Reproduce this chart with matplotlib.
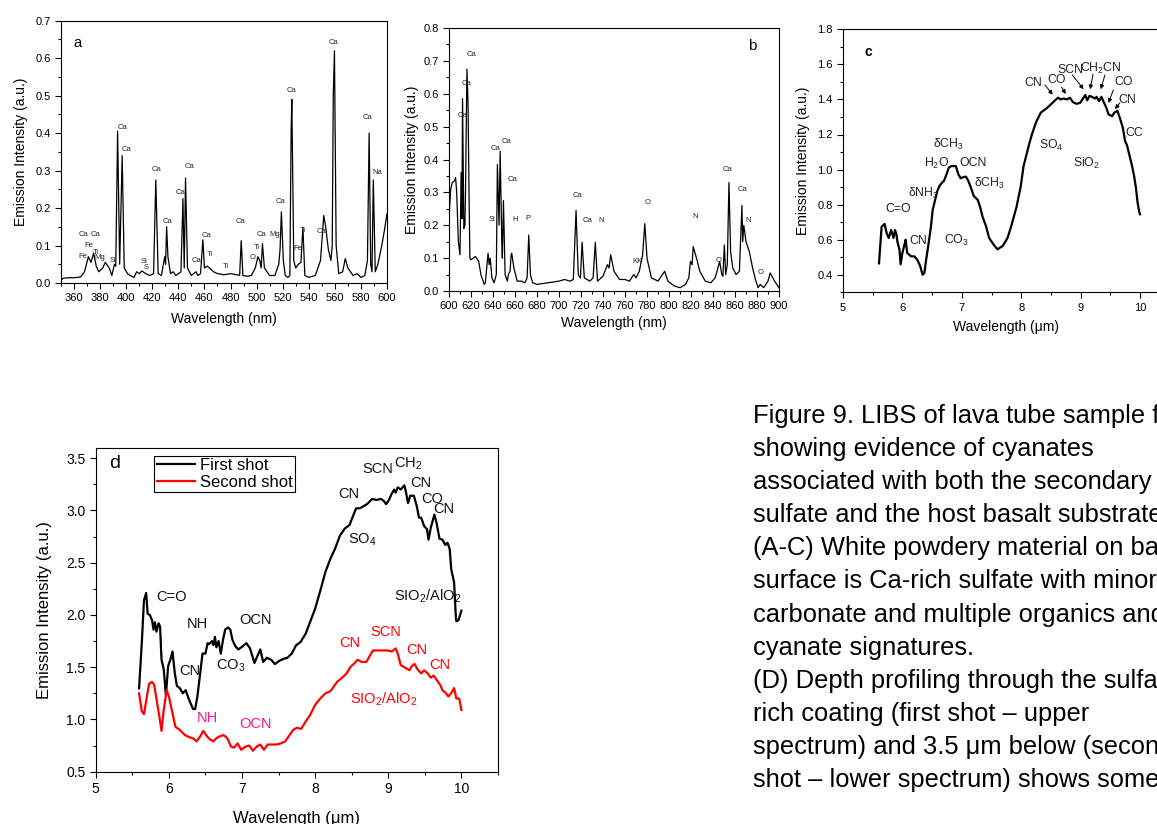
import numpy as np
import matplotlib
matplotlib.use('Agg')
import matplotlib.pyplot as plt
from matplotlib.ticker import MultipleLocator, FormatStrFormatter

plt.rcParams['font.family'] = ['Liberation Sans', 'DejaVu Sans']
plt.rcParams['mathtext.fontset'] = 'custom'
plt.rcParams['mathtext.rm'] = 'Liberation Sans'
plt.rcParams['mathtext.default'] = 'regular'

# ---- panel a : LIBS 350-600 nm
a_wl = [350, 352, 356, 360, 365, 368, 371, 373, 375, 377,
        379, 382, 384, 386, 387, 389, 391, 392, 393.4, 395,
        396.9, 398.5, 401, 403, 406, 408, 410, 412, 415, 418,
        421, 422.7, 424.5, 427, 429.5, 430.2, 431, 432, 434, 436,
        438, 440, 442, 443.5, 444.5, 445.5, 447, 450, 453.5, 455,
        457, 458.8, 460, 462, 464, 467, 470, 475, 480, 485,
        487, 488.2, 489.5, 493, 496, 499, 501, 502.5, 503.5, 504.5,
        506, 510, 514, 517, 518, 519, 520.5, 522, 524, 525.5,
        526.5, 527, 528.5, 530, 532, 534, 535.5, 537, 540, 545,
        549, 551.5, 553, 555, 557, 558, 558.8, 559.7, 561, 563,
        566, 568, 570, 574, 577, 580, 583, 585, 586.3, 587.5,
        588.5, 589.5, 591, 593, 596, 598, 600]
a_int = [0.008, 0.013, 0.014, 0.014, 0.016, 0.03, 0.07, 0.055, 0.08, 0.045,
         0.03, 0.04, 0.055, 0.045, 0.04, 0.02, 0.05, 0.045, 0.405, 0.05,
         0.34, 0.04, 0.025, 0.02, 0.015, 0.03, 0.025, 0.032, 0.025, 0.02,
         0.025, 0.275, 0.025, 0.02, 0.07, 0.05, 0.15, 0.07, 0.025, 0.03,
         0.02, 0.025, 0.03, 0.225, 0.04, 0.28, 0.04, 0.02, 0.03, 0.02,
         0.025, 0.115, 0.04, 0.045, 0.04, 0.03, 0.025, 0.022, 0.025, 0.022,
         0.02, 0.113, 0.02, 0.018, 0.02, 0.04, 0.07, 0.06, 0.04, 0.105,
         0.04, 0.02, 0.02, 0.05, 0.09, 0.19, 0.06, 0.02, 0.015, 0.02,
         0.41, 0.49, 0.06, 0.04, 0.05, 0.055, 0.148, 0.02, 0.015, 0.02,
         0.06, 0.18, 0.15, 0.09, 0.06, 0.1, 0.5, 0.62, 0.1, 0.025,
         0.03, 0.065, 0.04, 0.02, 0.025, 0.015, 0.02, 0.06, 0.40, 0.05,
         0.03, 0.275, 0.03, 0.05, 0.1, 0.14, 0.185]
a_labels = [('Ca', 367.6, 0.129), ('Ca', 376.8, 0.129), ('Fe', 371.7, 0.099), ('Ti', 377, 0.082),
            ('Fe', 366.4, 0.072), ('Mg', 379.4, 0.068), ('Si', 390, 0.059), ('Ca', 397, 0.416),
            ('Ca', 400.4, 0.355), ('Si', 413.7, 0.057), ('S', 415.7, 0.042), ('Ca', 423.4, 0.303),
            ('Ca', 431.3, 0.164), ('Ca', 441.3, 0.242), ('Ca', 448.4, 0.31), ('Ca', 453.8, 0.059),
            ('Ca', 461.2, 0.128), ('Ti', 464.5, 0.077), ('Ti', 476.6, 0.044), ('Ca', 487.8, 0.164),
            ('Ti', 500.1, 0.094), ('O', 497, 0.0675), ('Ca', 503.4, 0.13), ('Mg', 514.1, 0.13),
            ('Ca', 518.5, 0.217), ('Ca', 526.4, 0.513), ('Fe', 531.5, 0.093), ('Ti', 535.8, 0.141),
            ('Ca', 550, 0.137), ('Ca', 558.9, 0.641), ('Ca', 585.2, 0.442), ('Na', 592.6, 0.294)]

# ---- panel b : LIBS 600-900 nm
b_wl = [600, 601.5, 603, 605, 606, 607, 608.5, 610, 611, 611.8,
        612.3, 613.5, 614.5, 615, 616.3, 617.3, 618.2, 619, 620, 622,
        624, 627, 629, 632, 633, 634, 635.5, 636.5, 637.5, 639,
        641, 643, 644, 645.5, 646.5, 648, 648.5, 649.5, 651, 653,
        654, 655.5, 656.5, 657, 659, 662, 666, 669, 671, 672.5,
        674, 676, 680, 690, 700, 705, 710, 713, 715.5, 717.5,
        719.5, 721, 723, 728, 731, 733, 735, 740, 744, 745.5,
        747, 750, 755, 760, 764, 768, 770, 773, 776, 778,
        780, 784, 790, 796, 799, 805, 810, 815, 818, 819.5,
        821, 822, 825, 828, 833, 838, 842, 844, 846, 848,
        849, 850.3, 851.5, 853, 854.5, 856, 858, 861, 864, 866.3,
        867, 868, 870, 873, 876, 879, 881, 883, 886, 890,
        892, 896, 900]
b_int = [0.22, 0.31, 0.33, 0.335, 0.345, 0.3, 0.15, 0.11, 0.36, 0.22,
         0.585, 0.19, 0.2, 0.3, 0.675, 0.57, 0.3, 0.1, 0.095, 0.1,
         0.105, 0.09, 0.05, 0.02, 0.025, 0.06, 0.115, 0.08, 0.1, 0.04,
         0.025, 0.05, 0.385, 0.2, 0.425, 0.15, 0.1, 0.275, 0.05, 0.03,
         0.05, 0.06, 0.11, 0.115, 0.07, 0.03, 0.03, 0.025, 0.04, 0.17,
         0.05, 0.025, 0.02, 0.025, 0.03, 0.035, 0.03, 0.035, 0.245, 0.05,
         0.04, 0.148, 0.04, 0.03, 0.04, 0.148, 0.03, 0.045, 0.08, 0.07,
         0.11, 0.06, 0.035, 0.035, 0.03, 0.05, 0.04, 0.06, 0.11, 0.205,
         0.1, 0.04, 0.03, 0.06, 0.03, 0.015, 0.01, 0.02, 0.04, 0.09,
         0.08, 0.135, 0.1, 0.06, 0.03, 0.025, 0.04, 0.065, 0.09, 0.05,
         0.045, 0.14, 0.05, 0.08, 0.33, 0.12, 0.07, 0.05, 0.06, 0.26,
         0.15, 0.2, 0.15, 0.12, 0.07, 0.03, 0.01, 0.02, 0.01, 0.03,
         0.055, 0.03, 0.01]
b_labels = [('Ca', 620.6, 0.72), ('Ca', 616.1, 0.63), ('Ca', 612.7, 0.535), ('Ca', 642.7, 0.434),
            ('Ca', 652.4, 0.456), ('Ca', 657.6, 0.338), ('Si', 638.8, 0.219), ('H', 660.3, 0.219),
            ('P', 671.8, 0.221), ('Ca', 717, 0.29), ('Ca', 726.1, 0.213), ('N', 738.2, 0.213),
            ('KK', 771.8, 0.089), ('O', 780.6, 0.269), ('N', 823.6, 0.226), ('O', 844.8, 0.094),
            ('Ca', 853, 0.37), ('Ca', 866.6, 0.31), ('N', 872, 0.213), ('O', 883.4, 0.056)]

# ---- panel c : IR-like spectrum 5-10 um
c_wl = [5.606, 5.65, 5.70, 5.735, 5.77, 5.81, 5.85, 5.875, 5.90, 5.915,
        5.95, 5.97, 6.00, 6.03, 6.055, 6.08, 6.145, 6.20, 6.25, 6.30,
        6.34, 6.37, 6.40, 6.45, 6.48, 6.51, 6.55, 6.59, 6.63, 6.68,
        6.70, 6.745, 6.78, 6.82, 6.857, 6.90, 6.94, 6.98, 7.01, 7.07,
        7.11, 7.15, 7.20, 7.27, 7.31, 7.35, 7.41, 7.46, 7.54, 7.60,
        7.69, 7.77, 7.83, 7.92, 7.99, 8.04, 8.13, 8.18, 8.25, 8.33,
        8.43, 8.51, 8.57, 8.62, 8.66, 8.71, 8.77, 8.82, 8.87, 8.93,
        8.99, 9.04, 9.08, 9.11, 9.15, 9.19, 9.24, 9.27, 9.31, 9.35,
        9.39, 9.43, 9.47, 9.53, 9.57, 9.62, 9.66, 9.71, 9.75, 9.78,
        9.82, 9.86, 9.90, 9.93, 9.96, 9.99, 10.0]
c_int = [0.465, 0.674, 0.69, 0.637, 0.61, 0.655, 0.61, 0.655, 0.63, 0.59,
         0.545, 0.46, 0.525, 0.565, 0.6, 0.525, 0.505, 0.505, 0.486, 0.45,
         0.40, 0.41, 0.486, 0.6, 0.674, 0.77, 0.826, 0.88, 0.91, 0.93,
         0.935, 0.975, 1.01, 1.02, 1.02, 1.02, 0.975, 0.95, 0.955, 0.96,
         0.935, 0.9, 0.85, 0.826, 0.785, 0.73, 0.675, 0.61, 0.57, 0.545,
         0.565, 0.61, 0.675, 0.785, 0.9, 1.02, 1.14, 1.2, 1.27, 1.325,
         1.35, 1.375, 1.395, 1.41, 1.40, 1.405, 1.40, 1.41, 1.385, 1.375,
         1.38, 1.405, 1.425, 1.395, 1.42, 1.415, 1.405, 1.415, 1.39, 1.415,
         1.385, 1.355, 1.315, 1.305, 1.325, 1.335, 1.295, 1.24, 1.16, 1.14,
         1.085, 1.03, 0.965, 0.9, 0.81, 0.755, 0.745]
c_labels = [('C=O', 5.93, 0.773), ('CN', 6.27, 0.594), ('δNH$_3$', 6.35, 0.865), ('δCH$_3$', 6.77, 1.146),
            ('H$_2$O', 6.58, 1.036), ('OCN', 7.19, 1.036), ('δCH$_3$', 7.46, 0.918), ('CO$_3$', 6.91, 0.594),
            ('SO$_4$', 8.51, 1.135), ('SiO$_2$', 9.10, 1.036), ('CC', 9.90, 1.21), ('CN', 8.20, 1.496),
            ('CO', 8.59, 1.511), ('SCN', 8.82, 1.568), ('CH$_2$CN', 9.34, 1.578), ('CO', 9.72, 1.501),
            ('CN', 9.78, 1.397)]
c_arrows = [((8.40, 1.483), (8.53, 1.427)), ((8.68, 1.47), (8.75, 1.431)), ((8.86, 1.54), (9.05, 1.458)),
            ((9.21, 1.545), (9.16, 1.458)), ((9.41, 1.54), (9.34, 1.458)), ((9.55, 1.454), (9.47, 1.38)),
            ((9.66, 1.38), (9.58, 1.345))]

# ---- panel d : depth profile, two shots
d_wl1 = [5.593, 5.63, 5.66, 5.69, 5.71, 5.74, 5.77, 5.79, 5.81, 5.83,
         5.86, 5.88, 5.90, 5.93, 5.96, 5.99, 6.02, 6.05, 6.08, 6.11,
         6.15, 6.19, 6.23, 6.27, 6.30, 6.33, 6.36, 6.39, 6.43, 6.46,
         6.50, 6.53, 6.55, 6.59, 6.61, 6.63, 6.65, 6.68, 6.71, 6.74,
         6.77, 6.81, 6.84, 6.87, 6.91, 6.95, 7.01, 7.06, 7.11, 7.17,
         7.20, 7.25, 7.29, 7.34, 7.40, 7.45, 7.51, 7.57, 7.62, 7.68,
         7.74, 7.80, 7.87, 7.93, 8.00, 8.07, 8.14, 8.21, 8.27, 8.34,
         8.41, 8.47, 8.52, 8.56, 8.61, 8.66, 8.71, 8.78, 8.84, 8.90,
         8.94, 8.97, 9.01, 9.04, 9.08, 9.10, 9.13, 9.17, 9.22, 9.24,
         9.27, 9.30, 9.35, 9.39, 9.42, 9.45, 9.49, 9.53, 9.55, 9.58,
         9.63, 9.66, 9.70, 9.74, 9.78, 9.81, 9.84, 9.86, 9.90, 9.92,
         9.93, 9.96, 10.0]
d_first = [1.298, 1.73, 2.14, 2.21, 2.01, 2.0, 1.95, 1.86, 1.93, 1.84,
           1.92, 1.89, 1.57, 1.48, 1.23, 1.51, 1.57, 1.65, 1.45, 1.32,
           1.30, 1.25, 1.28, 1.2, 1.15, 1.10, 1.10, 1.22, 1.45, 1.63,
           1.63, 1.73, 1.72, 1.75, 1.71, 1.79, 1.69, 1.75, 1.63, 1.76,
           1.86, 1.88, 1.86, 1.76, 1.70, 1.67, 1.70, 1.73, 1.68, 1.54,
           1.59, 1.67, 1.55, 1.59, 1.57, 1.53, 1.56, 1.58, 1.59, 1.63,
           1.71, 1.74, 1.82, 1.93, 2.06, 2.23, 2.41, 2.54, 2.63, 2.76,
           2.83, 2.86, 2.95, 3.02, 3.02, 3.04, 3.06, 3.11, 3.10, 3.11,
           3.09, 3.06, 3.10, 3.15, 3.20, 3.17, 3.22, 3.20, 3.24, 3.18,
           3.07, 3.14, 3.14, 3.04, 2.93, 2.93, 2.85, 2.82, 2.72, 2.83,
           2.96, 2.88, 2.73, 2.72, 2.67, 2.69, 2.63, 2.44, 2.31, 2.03,
           1.94, 1.95, 2.04]
d_wl2 = [5.593, 5.63, 5.66, 5.70, 5.73, 5.77, 5.80, 5.83, 5.87, 5.90,
         5.93, 5.97, 6.00, 6.05, 6.09, 6.15, 6.22, 6.28, 6.33, 6.38,
         6.43, 6.47, 6.52, 6.56, 6.61, 6.65, 6.70, 6.75, 6.80, 6.85,
         6.89, 6.94, 6.99, 7.05, 7.10, 7.15, 7.20, 7.25, 7.30, 7.35,
         7.41, 7.47, 7.53, 7.59, 7.64, 7.70, 7.75, 7.81, 7.87, 7.93,
         8.00, 8.07, 8.14, 8.21, 8.25, 8.30, 8.37, 8.43, 8.48, 8.54,
         8.58, 8.64, 8.70, 8.74, 8.79, 8.84, 8.91, 8.98, 9.05, 9.10,
         9.13, 9.17, 9.22, 9.29, 9.32, 9.36, 9.40, 9.45, 9.49, 9.54,
         9.58, 9.62, 9.66, 9.71, 9.74, 9.79, 9.82, 9.86, 9.90, 9.93,
         9.97, 10.0]
d_second = [1.25, 1.08, 1.05, 1.22, 1.34, 1.36, 1.33, 1.20, 1.03, 0.89,
            1.09, 1.28, 1.22, 1.06, 0.93, 0.90, 0.85, 0.83, 0.82, 0.79,
            0.84, 0.89, 0.84, 0.81, 0.79, 0.82, 0.84, 0.85, 0.82, 0.74,
            0.73, 0.77, 0.71, 0.74, 0.75, 0.70, 0.74, 0.76, 0.71, 0.76,
            0.76, 0.76, 0.77, 0.79, 0.84, 0.90, 0.92, 0.91, 0.98, 1.04,
            1.14, 1.20, 1.25, 1.27, 1.31, 1.36, 1.40, 1.44, 1.50, 1.54,
            1.57, 1.55, 1.55, 1.60, 1.66, 1.66, 1.66, 1.66, 1.65, 1.68,
            1.63, 1.52, 1.50, 1.47, 1.51, 1.53, 1.48, 1.44, 1.47, 1.44,
            1.40, 1.42, 1.38, 1.33, 1.28, 1.25, 1.22, 1.25, 1.30, 1.20,
            1.20, 1.09]
d_labels_black = [('C=O', 6.04, 2.175), ('NH', 6.39, 1.915), ('OCN', 7.19, 1.952), ('CN', 6.28, 1.46),
                  ('CO$_3$', 6.84, 1.51), ('CN', 8.46, 3.16), ('SO$_4$', 8.64, 2.72), ('SCN', 8.85, 3.40),
                  ('CH$_2$', 9.27, 3.45), ('CN', 9.45, 3.26), ('CO', 9.60, 3.11), ('CN', 9.76, 3.01),
                  ('SIO$_2$/AlO$_2$', 9.54, 2.18)]
d_labels_red = [('CN', 8.48, 1.73), ('SCN', 8.97, 1.84), ('CN', 9.39, 1.66), ('CN', 9.71, 1.52),
                ('SIO$_2$/AlO$_2$', 8.93, 1.19)]
d_labels_pink = [('NH', 6.52, 1.01), ('OCN', 7.18, 0.96)]

caption = ['Figure 9. LIBS of lava tube sample from',
           'showing evidence of cyanates',
           'associated with both the secondary',
           'sulfate and the host basalt substrate.',
           '(A-C) White powdery material on basalt',
           'surface is Ca-rich sulfate with minor',
           'carbonate and multiple organics and',
           'cyanate signatures.',
           '(D) Depth profiling through the sulfate-',
           'rich coating (first shot \u2013 upper',
           'spectrum) and 3.5 \u03bcm below (second',
           'shot \u2013 lower spectrum) shows some']

W, H = 1157, 824
fig = plt.figure(figsize=(W / 100, H / 100), dpi=100)

def px_axes(l, t, r, b):
    return fig.add_axes([l / W, 1 - b / H, (r - l) / W, (b - t) / H])

def style(ax, fs, lw=0.8):
    for s in ax.spines.values():
        s.set_linewidth(lw)
    ax.tick_params(which='both', direction='out', top=False, right=False, labelsize=fs, width=lw)
    ax.tick_params(which='major', length=4)
    ax.tick_params(which='minor', length=2.5)

tc = '#222222'

# a
ax = px_axes(61, 20.7, 387, 283)
ax.plot(a_wl, a_int, color='black', lw=0.9)
ax.set_xlim(350, 600); ax.set_ylim(0, 0.7)
ax.xaxis.set_major_locator(MultipleLocator(20)); ax.xaxis.set_minor_locator(MultipleLocator(10))
ax.set_xticks(np.arange(360, 601, 20))
ax.yaxis.set_major_locator(MultipleLocator(0.1)); ax.yaxis.set_minor_locator(MultipleLocator(0.05))
ax.yaxis.set_major_formatter(FormatStrFormatter('%.1f'))
style(ax, 8)
for t, x, y in a_labels:
    ax.text(x, y, t, fontsize=5.5, color=tc, ha='center', va='center')
ax.text(362.5, 0.64, 'a', fontsize=10.5, ha='center', va='center')
ax.set_xlabel('Wavelength (nm)', fontsize=10, labelpad=6)
ax.set_ylabel('Emission Intensity (a.u.)', fontsize=10, labelpad=5)

# b
ax = px_axes(449, 28, 779, 291)
ax.plot(b_wl, b_int, color='black', lw=0.9)
ax.set_xlim(600, 900); ax.set_ylim(0, 0.8)
ax.xaxis.set_major_locator(MultipleLocator(20)); ax.xaxis.set_minor_locator(MultipleLocator(10))
ax.yaxis.set_major_locator(MultipleLocator(0.1)); ax.yaxis.set_minor_locator(MultipleLocator(0.05))
ax.yaxis.set_major_formatter(FormatStrFormatter('%.1f'))
style(ax, 8)
for t, x, y in b_labels:
    ax.text(x, y, t, fontsize=5.5, color=tc, ha='center', va='center')
ax.text(876, 0.745, 'b', fontsize=11, ha='center', va='center')
ax.set_xlabel('Wavelength (nm)', fontsize=10, labelpad=3)
ax.set_ylabel('Emission Intensity (a.u.)', fontsize=10, labelpad=3)

# c
ax = px_axes(843, 29.3, 843 + 5.5 * 59.4, 292.3)
ax.plot(c_wl, c_int, color='black', lw=1.6)
ax.set_xlim(5, 10.5); ax.set_ylim(0.3, 1.8)
ax.xaxis.set_major_locator(MultipleLocator(1)); ax.xaxis.set_minor_locator(MultipleLocator(0.5))
ax.set_xticks(np.arange(5, 10.01, 1))
ax.set_yticks(np.arange(0.4, 1.81, 0.2)); ax.yaxis.set_minor_locator(MultipleLocator(0.1))
ax.yaxis.set_major_formatter(FormatStrFormatter('%.1f'))
style(ax, 8)
for t, x, y in c_labels:
    ax.text(x, y, t, fontsize=8.8, color=tc, ha='center', va='center')
for (x0, y0), (x1, y1) in c_arrows:
    ax.annotate('', xy=(x1, y1), xytext=(x0, y0),
                arrowprops=dict(arrowstyle='-|>', lw=0.7, color='black', mutation_scale=6,
                                shrinkA=0, shrinkB=0))
ax.text(5.43, 1.672, 'c', fontsize=10, fontweight='bold', ha='center', va='center')
ax.set_xlabel('Wavelength (\u03bcm)', fontsize=10, labelpad=5)
ax.set_ylabel('Emission Intensity (a.u.)', fontsize=10, labelpad=5)

# d
ax = px_axes(95.7, 447.7, 498, 771.7)
ax.plot(d_wl1, d_first, color='black', lw=1.6, label='First shot')
ax.plot(d_wl2, d_second, color='red', lw=1.6, label='Second shot')
ax.set_xlim(5, 10.5); ax.set_ylim(0.5, 3.6)
ax.set_xticks(np.arange(5, 10.01, 1)); ax.xaxis.set_minor_locator(MultipleLocator(0.5))
ax.set_yticks(np.arange(0.5, 3.51, 0.5)); ax.yaxis.set_minor_locator(MultipleLocator(0.25))
ax.yaxis.set_major_formatter(FormatStrFormatter('%.1f'))
style(ax, 10)
for t, x, y in d_labels_black:
    ax.text(x, y, t, fontsize=10.5, color='#111111', ha='center', va='center')
for t, x, y in d_labels_red:
    ax.text(x, y, t, fontsize=10.5, color='red', ha='center', va='center')
for t, x, y in d_labels_pink:
    ax.text(x, y, t, fontsize=10.5, color='#ff1493', ha='center', va='center')
ax.text(5.264, 3.445, 'd', fontsize=14, ha='center', va='center')
leg = ax.legend(loc='upper left', bbox_to_anchor=(0.145, 0.975), borderaxespad=0, fontsize=12,
                frameon=True, fancybox=False, edgecolor='black', framealpha=1,
                handlelength=2.3, handletextpad=0.3, borderpad=0.15, labelspacing=0.1)
leg.get_frame().set_linewidth(0.8)
ax.set_xlabel('Wavelength (\u03bcm)', fontsize=12, labelpad=11)
ax.set_ylabel('Emission Intensity (a.u.)', fontsize=12, labelpad=10)

for i, line in enumerate(caption):
    fig.text(753 / W, 1 - (423 + i * 33.1) / H, line, fontsize=18.4, ha='left', va='baseline')

fig.savefig('out.png', dpi=100)
